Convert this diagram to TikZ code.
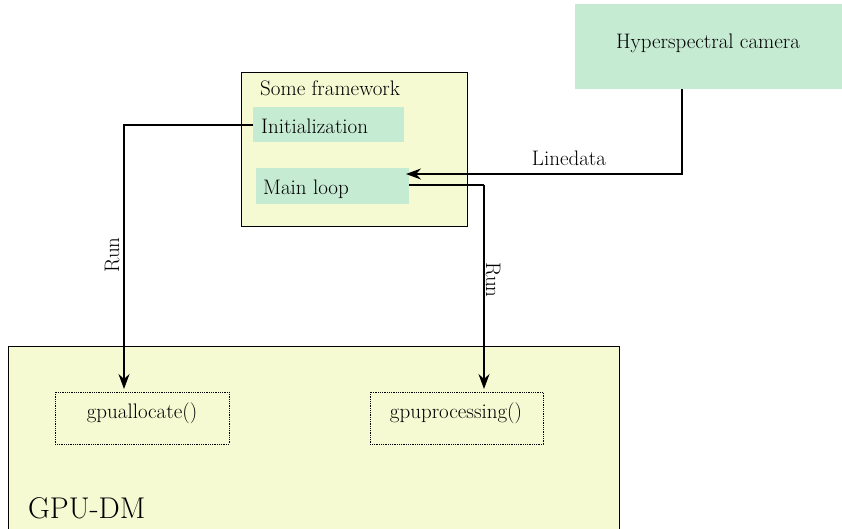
\documentclass[tikz,border=0pt]{standalone}
\usetikzlibrary{arrows.meta}
\definecolor{boxgreen}{HTML}{C6EBD3}
\definecolor{boxyellow}{HTML}{F6FAD2}
\begin{document}
\begin{tikzpicture}[x=1pt,y=-1pt,
  txt/.style={font=\fontsize{21}{24}\selectfont, inner sep=0pt},
  greenbox/.style={fill=boxgreen, draw=none},
  conn/.style={draw=black, line width=1.2pt, -{Stealth[length=15pt,width=11pt]}},
  plainconn/.style={draw=black, line width=1.2pt},
  fnbox/.style={draw=black, densely dotted, line width=0.8pt, fill=boxyellow}]
\useasboundingbox (0,0) rectangle (842,528);

% GPU-DM container (runs off the lower edge)
\fill[boxyellow] (8,346) rectangle (619,530);
\draw[line width=0.8pt] (8,530) -- (8,346) -- (619,346) -- (619,530);
\node[txt, anchor=base west, font=\fontsize{30}{34}\selectfont] (gpudm) at (28,518) {GPU-DM};

% framework box
\draw[fill=boxyellow, line width=0.8pt] (241,72) rectangle (467,226);
\node[txt, anchor=base west] (fw) at (260,95) {Some framework};

% components inside the framework
\fill[greenbox] (253,107) rectangle (404,142);
\node[txt, anchor=base west] (initlbl) at (261,133) {Initialization};
\coordinate (init) at (253,125);

\fill[greenbox] (256,168) rectangle (409,204);
\node[txt, anchor=base west] (mainlbl) at (263,194) {Main loop};
\coordinate (mainout) at (409,185);
\coordinate (mainin) at (406,174);

% camera
\fill[greenbox] (575,4) rectangle (842,89);
\node[txt] (camlbl) at (708,43) {Hyperspectral camera};
\coordinate (cam) at (682,89);

% GPU functions
\draw[fnbox] (55,392) rectangle (229,444);
\node[txt] (alloc) at (142,413) {gpuallocate()};
\coordinate (allocin) at (124,389);
\draw[fnbox] (370,392) rectangle (543,444);
\node[txt] (proc) at (456,413) {gpuprocessing()};
\coordinate (procin) at (484,389);

% connector labels
\node[txt, rotate=90] (runa) at (112,255) {Run};
\node[txt, rotate=-90] (runb) at (493,280) {Run};
\node[txt] (linedata) at (569,158) {Linedata};

% connectors
\draw[conn] (init) -- (124,125) -- (allocin);
\draw[conn] (cam) -- (682,174) -- (mainin);
\draw[plainconn] (mainout) -- (484,185);
\draw[conn] (484,185) -- (procin);
\end{tikzpicture}
\end{document}
